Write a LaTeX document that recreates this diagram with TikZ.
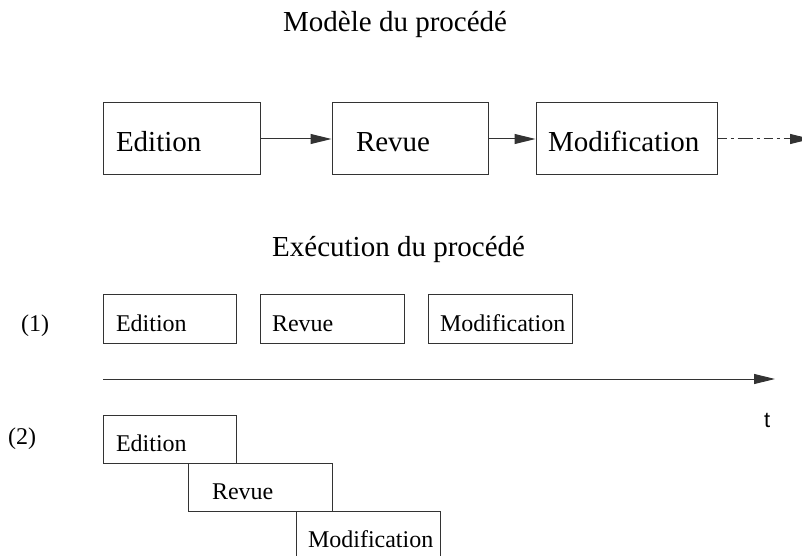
\documentclass[tikz,border=0pt]{standalone}
\usepackage{fontspec}
\setmainfont{Liberation Serif}
\newfontfamily\tsansfam{Liberation Sans}
\usetikzlibrary{arrows.meta}
\tikzset{
  ln/.style={line width=1bp, draw=black!80},
  bx/.style={ln, rectangle, inner sep=0pt, align=left, text depth=0pt},
  topbox/.style={bx, minimum height=72bp, text height=26bp, font=\fontsize{29bp}{34bp}\selectfont},
  rowbox/.style={bx, minimum height=48bp, text height=24bp, font=\fontsize{24bp}{28bp}\selectfont},
  arr/.style={ln, -{Triangle[length=21bp,width=10bp]}},
  dasharr/.style={arr, dash pattern=on 9bp off 4bp on 3bp off 4bp on 15bp off 4bp on 3bp off 4bp},
  title/.style={anchor=base west, inner sep=0pt, font=\fontsize{29bp}{34bp}\selectfont},
  lab/.style={anchor=base west, inner sep=0pt, font=\fontsize{24bp}{28bp}\selectfont},
}
\begin{document}
\begin{tikzpicture}[x=1bp,y=-1bp]
\useasboundingbox (0,0) rectangle (802,556);
\clip (0,0) rectangle (802,556);

% titles
\node[title] (t1) at (283,32) {Modèle du procédé};
\node[title] (t2) at (272,257) {Exécution du procédé};

% process model
\node[topbox, text width=157bp] (e0) at (181.5,139) {\hspace*{13bp}Edition};
\node[topbox, text width=156bp] (r0) at (410,139) {\hspace*{24bp}Revue};
\node[topbox, text width=181bp] (m0) at (626.5,139) {\hspace*{12bp}Modification};
\coordinate (x0) at (811,139);
\draw[arr] (e0) -- (r0);
\draw[arr] (r0) -- (m0);
\draw[arr, dash pattern=on 9bp off 4bp on 3bp off 4bp on 15bp off 4bp on 3bp off 4bp] (m0) -- (x0);

% execution (1)
\node[lab] (l1) at (21,331) {(1)};
\node[rowbox, text width=133bp] (e1) at (169.5,319) {\hspace*{13bp}Edition};
\node[rowbox, text width=144bp] (r1) at (332,319) {\hspace*{12bp}Revue};
\node[rowbox, text width=144bp] (m1) at (500,319) {\hspace*{12bp}Modification};

% time axis
\coordinate (a0) at (103,379);
\coordinate (a1) at (775,379);
\draw[arr] (a0) -- (a1);
\node[anchor=base west, inner sep=0pt, font=\tsansfam\fontsize{22bp}{26bp}\selectfont] (tt) at (764,427) {t};

% execution (2)
\node[lab] (l2) at (8,444) {(2)};
\node[rowbox, text width=133bp] (e2) at (169.5,439) {\hspace*{13bp}Edition};
\node[rowbox, text width=144bp] (r2) at (260,487) {\hspace*{24bp}Revue};
\node[rowbox, text width=144bp] (m2) at (368,535) {\hspace*{12bp}Modification};
\end{tikzpicture}
\end{document}
